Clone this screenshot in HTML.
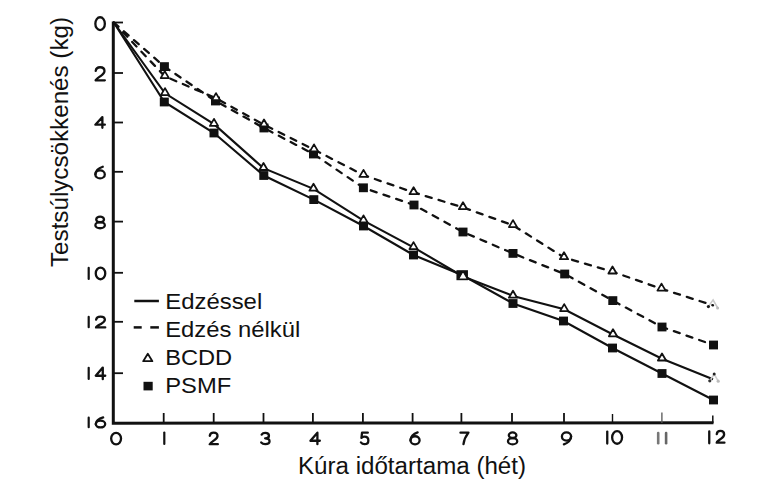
<!DOCTYPE html>
<html><head><meta charset="utf-8"><style>
html,body{margin:0;padding:0;background:#fff;}
svg{display:block;}
text{font-family:"Liberation Sans",sans-serif;fill:#111;}
.ln{fill:none;stroke:#111;stroke-width:2.1;stroke-linejoin:miter;}
.dash{fill:none;stroke:#111;stroke-width:2.3;stroke-dasharray:6.2 7.2;stroke-linecap:round;}
.tri{fill:#fff;stroke:#111;stroke-width:1.8;stroke-linejoin:round;}
.sq{fill:#111;}
.ax{fill:none;stroke:#111;stroke-width:3;}
.tk{stroke:#111;stroke-width:1.8;}
.dgt{fill:none;stroke:#111;stroke-linecap:round;stroke-linejoin:round;}
.dgt *{vector-effect:non-scaling-stroke;}
</style></head><body>
<svg width="779" height="489" viewBox="0 0 779 489">
<rect width="779" height="489" fill="#fff"/>

<path class="ax" d="M113.3,21.5 L113.3,423.2 L713.5,422.8"/>
<line class="tk" x1="113" y1="22.5" x2="123" y2="22.5"/>
<line class="tk" x1="113" y1="73" x2="123" y2="73"/>
<line class="tk" x1="113" y1="122.5" x2="123" y2="122.5"/>
<line class="tk" x1="113" y1="171.8" x2="123" y2="171.8"/>
<line class="tk" x1="113" y1="221.6" x2="123" y2="221.6"/>
<line class="tk" x1="113" y1="272.8" x2="123" y2="272.8"/>
<line class="tk" x1="113" y1="321.8" x2="123" y2="321.8"/>
<line class="tk" x1="113" y1="373.2" x2="123" y2="373.2"/>
<line class="tk" x1="163.7" y1="413" x2="163.7" y2="423"/>
<line class="tk" x1="213.7" y1="413" x2="213.7" y2="423"/>
<line class="tk" x1="263.5" y1="413" x2="263.5" y2="423"/>
<line class="tk" x1="312.9" y1="413" x2="312.9" y2="423"/>
<line class="tk" x1="362.9" y1="413" x2="362.9" y2="423"/>
<line class="tk" x1="412.6" y1="413" x2="412.6" y2="423"/>
<line class="tk" x1="461.4" y1="413" x2="461.4" y2="423"/>
<line class="tk" x1="512.0" y1="413" x2="512.0" y2="423"/>
<line class="tk" x1="564.0" y1="413" x2="564.0" y2="423"/>
<line class="tk" x1="612.5" y1="414" x2="612.5" y2="423" style="stroke-width:1.4"/>
<line class="tk" x1="661.9" y1="412.5" x2="661.9" y2="423" style="stroke-width:1.3;stroke:#555"/>
<line class="tk" x1="712.8" y1="415.5" x2="712.8" y2="423" style="stroke-width:1.5"/>
<polyline class="ln" points="113.8,22.5 165.0,93.3 214.0,124.1 263.5,168.2 313.5,188.9 363.5,220.6 413.5,247.3 463.0,276.5 513.0,295.9 564.2,309.3 613.0,334.5 662.0,358.7 713.0,379.3"/>
<polyline class="ln" points="113.8,22.5 164.3,102.0 214.0,133.0 263.8,175.5 313.8,199.6 363.5,226.0 413.5,255.0 462.0,275.0 513.0,303.5 563.5,321.0 612.5,348.0 662.0,373.5 713.5,400.0"/>
<polyline class="dash" points="113.8,22.5 164.8,76.3 216.0,98.3 264.0,124.7 314.0,149.6 363.5,175.1 413.6,192.4 463.0,207.4 513.0,225.3 564.0,257.4 612.5,271.7 661.5,288.8 713.0,305.3"/>
<polyline class="dash" points="113.8,22.5 164.4,66.6 215.5,101.0 264.0,128.0 313.5,154.0 363.4,187.8 414.0,205.0 463.0,232.0 513.0,253.4 564.7,274.0 612.8,300.6 662.0,327.0 713.5,345.0"/>
<rect class="sq" x="159.90" y="62.20" width="9" height="8.8"/>
<rect class="sq" x="211.00" y="96.60" width="9" height="8.8"/>
<rect class="sq" x="259.50" y="123.60" width="9" height="8.8"/>
<rect class="sq" x="309.00" y="149.60" width="9" height="8.8"/>
<rect class="sq" x="358.90" y="183.40" width="9" height="8.8"/>
<rect class="sq" x="409.50" y="200.60" width="9" height="8.8"/>
<rect class="sq" x="458.50" y="227.60" width="9" height="8.8"/>
<rect class="sq" x="508.50" y="249.00" width="9" height="8.8"/>
<rect class="sq" x="560.20" y="269.60" width="9" height="8.8"/>
<rect class="sq" x="608.30" y="296.20" width="9" height="8.8"/>
<rect class="sq" x="657.50" y="322.60" width="9" height="8.8"/>
<rect class="sq" x="709.00" y="340.60" width="9" height="8.8"/>
<rect class="sq" x="159.80" y="97.60" width="9" height="8.8"/>
<rect class="sq" x="209.50" y="128.60" width="9" height="8.8"/>
<rect class="sq" x="259.30" y="171.10" width="9" height="8.8"/>
<rect class="sq" x="309.30" y="195.20" width="9" height="8.8"/>
<rect class="sq" x="359.00" y="221.60" width="9" height="8.8"/>
<rect class="sq" x="409.00" y="250.60" width="9" height="8.8"/>
<rect class="sq" x="456.45" y="270.20" width="11.5" height="10"/>
<rect class="sq" x="508.50" y="299.10" width="9" height="8.8"/>
<rect class="sq" x="559.00" y="316.60" width="9" height="8.8"/>
<rect class="sq" x="608.00" y="343.60" width="9" height="8.8"/>
<rect class="sq" x="657.50" y="369.10" width="9" height="8.8"/>
<rect class="sq" x="709.00" y="395.60" width="9" height="8.8"/>
<path class="tri"  d="M160.70,78.12 L164.80,71.10 L168.90,78.12 Z"/>
<path class="tri"  d="M211.90,100.12 L216.00,93.10 L220.10,100.12 Z"/>
<path class="tri"  d="M259.90,126.52 L264.00,119.50 L268.10,126.52 Z"/>
<path class="tri"  d="M309.90,151.42 L314.00,144.40 L318.10,151.42 Z"/>
<path class="tri"  d="M359.40,176.92 L363.50,169.90 L367.60,176.92 Z"/>
<path class="tri"  d="M409.50,194.22 L413.60,187.20 L417.70,194.22 Z"/>
<path class="tri"  d="M458.90,209.22 L463.00,202.20 L467.10,209.22 Z"/>
<path class="tri"  d="M508.90,227.12 L513.00,220.10 L517.10,227.12 Z"/>
<path class="tri"  d="M559.90,259.22 L564.00,252.20 L568.10,259.22 Z"/>
<path class="tri"  d="M608.40,273.52 L612.50,266.50 L616.60,273.52 Z"/>
<path class="tri"  d="M657.40,290.62 L661.50,283.60 L665.60,290.62 Z"/>
<path class="tri"  d="M160.90,95.12 L165.00,88.10 L169.10,95.12 Z"/>
<path class="tri"  d="M209.90,125.92 L214.00,118.90 L218.10,125.92 Z"/>
<path class="tri"  d="M259.40,170.02 L263.50,163.00 L267.60,170.02 Z"/>
<path class="tri"  d="M309.40,190.72 L313.50,183.70 L317.60,190.72 Z"/>
<path class="tri"  d="M359.40,222.42 L363.50,215.40 L367.60,222.42 Z"/>
<path class="tri"  d="M409.40,249.12 L413.50,242.10 L417.60,249.12 Z"/>
<path d="M458.6,279 L463,271.3 L467.4,279 Z" fill="#fff" stroke="#111" stroke-width="1.2" stroke-linejoin="round"/>
<path class="tri"  d="M508.90,297.72 L513.00,290.70 L517.10,297.72 Z"/>
<path class="tri"  d="M560.10,311.12 L564.20,304.10 L568.30,311.12 Z"/>
<path class="tri"  d="M608.90,336.32 L613.00,329.30 L617.10,336.32 Z"/>
<path class="tri"  d="M657.90,360.52 L662.00,353.50 L666.10,360.52 Z"/>
<path d="M708.3,306.6 L713.1,299.9 L717.7,308" fill="none" stroke="#c8c8c8" stroke-width="1.6"/>
<circle cx="708.4" cy="306.6" r="1.6" fill="#1a1a1a"/>
<circle cx="717.6" cy="308" r="1.5" fill="#bbb"/>
<path d="M709.8,381 L714.2,374 L718.3,381.3" fill="none" stroke="#d0d0d0" stroke-width="1.6"/>
<circle cx="709.8" cy="380.8" r="1.6" fill="#333"/>
<circle cx="714.2" cy="374" r="1.5" fill="#222"/>
<circle cx="718.2" cy="381.2" r="1.6" fill="#bbb"/>
<g class="dgt" transform="translate(95.35,17.25) scale(0.9500,1.0159)" style="stroke-width:2.3"><ellipse cx="5" cy="6.3" rx="5" ry="6.3"/></g>
<g class="dgt" transform="translate(95.35,67.25) scale(0.9500,1.0397)" style="stroke-width:2.3"><path d="M0.4,3.4 C0.7,1.2 2.6,0 5,0 C7.7,0 9.6,1.5 9.6,3.7 C9.6,5.7 8,6.9 5.5,8.5 C3,10.1 0.6,11.4 0.3,12.6 L10,12.6"/></g>
<g class="dgt" transform="translate(95.35,117.15) scale(0.9500,0.8492)" style="stroke-width:2.3"><path d="M7.4,12.6 V0 L0,8.9 H10"/></g>
<g class="dgt" transform="translate(95.35,166.75) scale(0.9500,0.9206)" style="stroke-width:2.3"><path d="M7.8,0 C3.8,1.3 0.4,4 0.05,8.3"/><ellipse cx="5" cy="8.3" rx="4.95" ry="4.3"/></g>
<g class="dgt" transform="translate(95.35,216.65) scale(0.9500,0.9206)" style="stroke-width:2.3"><ellipse cx="5" cy="3.05" rx="4.1" ry="3.05"/><ellipse cx="5" cy="9.25" rx="5" ry="3.35"/></g>
<rect x="87.6" y="266.8" width="2.2" height="13.3" rx="1.1" fill="#111"/>
<g class="dgt" transform="translate(95.75,267.65) scale(0.9500,0.9206)" style="stroke-width:2.3"><ellipse cx="5" cy="6.3" rx="5" ry="6.3"/></g>
<rect x="87.6" y="315.8" width="2.2" height="12.5" rx="1.1" fill="#111"/>
<g class="dgt" transform="translate(95.75,316.65) scale(0.9500,0.8571)" style="stroke-width:2.3"><path d="M0.4,3.4 C0.7,1.2 2.6,0 5,0 C7.7,0 9.6,1.5 9.6,3.7 C9.6,5.7 8,6.9 5.5,8.5 C3,10.1 0.6,11.4 0.3,12.6 L10,12.6"/></g>
<rect x="87.6" y="366.7" width="2.2" height="13.3" rx="1.1" fill="#111"/>
<g class="dgt" transform="translate(95.75,367.55) scale(0.9500,0.9206)" style="stroke-width:2.3"><path d="M7.4,12.6 V0 L0,8.9 H10"/></g>
<rect x="87.6" y="416.6" width="2.2" height="11.7" rx="1.1" fill="#111"/>
<g class="dgt" transform="translate(95.75,417.45) scale(0.9500,0.7937)" style="stroke-width:2.3"><path d="M7.8,0 C3.8,1.3 0.4,4 0.05,8.3"/><ellipse cx="5" cy="8.3" rx="4.95" ry="4.3"/></g>
<g class="dgt" transform="translate(111.15,432.85) scale(0.9900,0.9127)" style="stroke-width:2.3"><ellipse cx="5" cy="6.3" rx="5" ry="6.3"/></g>
<g class="dgt" transform="translate(209.45,432.65) scale(0.8400,0.9127)" style="stroke-width:2.3"><path d="M0.4,3.4 C0.7,1.2 2.6,0 5,0 C7.7,0 9.6,1.5 9.6,3.7 C9.6,5.7 8,6.9 5.5,8.5 C3,10.1 0.6,11.4 0.3,12.6 L10,12.6"/></g>
<g class="dgt" transform="translate(261.05,432.85) scale(0.8500,0.8889)" style="stroke-width:2.3"><path d="M0.7,1.9 C1.6,0.6 3.1,0 4.9,0 C7.6,0 9.3,1.4 9.3,3.3 C9.3,5.2 7.6,6.2 4.8,6.2 C8,6.2 10,7.6 10,9.4 C10,11.3 8,12.6 5,12.6 C3,12.6 1.3,12 0.2,10.8"/></g>
<g class="dgt" transform="translate(310.45,432.65) scale(0.9400,0.9127)" style="stroke-width:2.3"><path d="M7.4,12.6 V0 L0,8.9 H10"/></g>
<g class="dgt" transform="translate(360.75,432.65) scale(0.7600,0.9127)" style="stroke-width:2.3"><path d="M9.3,0 H1.7 L0.9,5.6 C2.1,4.8 3.5,4.4 5,4.4 C8,4.4 10,6.1 10,8.5 C10,10.9 8,12.6 5,12.6 C3,12.6 1.3,11.9 0.2,10.7"/></g>
<g class="dgt" transform="translate(410.45,432.45) scale(0.9200,0.9444)" style="stroke-width:2.3"><path d="M7.8,0 C3.8,1.3 0.4,4 0.05,8.3"/><ellipse cx="5" cy="8.3" rx="4.95" ry="4.3"/></g>
<g class="dgt" transform="translate(460.45,432.65) scale(0.8000,0.9127)" style="stroke-width:2.3"><path d="M0,0 H10 C6.8,3.6 4.4,8 3.8,12.6"/></g>
<g class="dgt" transform="translate(507.95,432.45) scale(0.9300,0.9444)" style="stroke-width:2.3"><ellipse cx="5" cy="3.05" rx="4.1" ry="3.05"/><ellipse cx="5" cy="9.25" rx="5" ry="3.35"/></g>
<g class="dgt" transform="translate(561.85,432.45) scale(0.9300,0.9444)" style="stroke-width:2.3"><path d="M2.2,12.6 C6.2,11.3 9.6,8.6 9.95,4.3"/><ellipse cx="5" cy="4.3" rx="4.95" ry="4.3"/></g>
<rect x="163.2" y="431.5" width="2.2" height="13.5" rx="1.1" fill="#111"/>
<rect x="606.1" y="430.5" width="2.3" height="14.2" rx="1.1" fill="#111"/>
<g class="dgt" transform="translate(612.15,431.15) scale(0.9900,1.0000)" style="stroke-width:2.3"><ellipse cx="5" cy="6.3" rx="5" ry="6.3"/></g>
<rect x="656.9" y="431.8" width="2.6" height="12.6" rx="1.2" fill="#777"/>
<rect x="664.8" y="431.8" width="2.6" height="12.6" rx="1.2" fill="#666"/>
<rect x="708.1" y="430.3" width="2.3" height="14.1" rx="1.1" fill="#111"/>
<g class="dgt" transform="translate(716.45,430.95) scale(0.8000,0.9286)" style="stroke-width:2.3"><path d="M0.4,3.4 C0.7,1.2 2.6,0 5,0 C7.7,0 9.6,1.5 9.6,3.7 C9.6,5.7 8,6.9 5.5,8.5 C3,10.1 0.6,11.4 0.3,12.6 L10,12.6"/></g>
<text x="0" y="0" font-size="23" transform="translate(68,267) rotate(-90)" textLength="250" lengthAdjust="spacingAndGlyphs">Testsúlycsökkenés (kg)</text>
<text x="298" y="473.8" font-size="23" textLength="228" lengthAdjust="spacingAndGlyphs">Kúra időtartama (hét)</text>
<line x1="134.3" y1="301" x2="158.9" y2="301" stroke="#111" stroke-width="2.5"/>
<line x1="133.7" y1="327.4" x2="141.7" y2="327.4" stroke="#111" stroke-width="2.5"/>
<line x1="150.3" y1="327.4" x2="158.9" y2="327.4" stroke="#111" stroke-width="2.5"/>
<path d="M143.2,361.2 L147.8,353.8 L152.4,361.2 Z" fill="#fff" stroke="#111" stroke-width="1.8" stroke-linejoin="round"/>
<rect class="sq" x="143.5" y="381.8" width="9.2" height="8.6"/>
<text x="0" y="0" font-size="22" transform="translate(165.2,309.3) scale(1,1.035)" textLength="97" lengthAdjust="spacingAndGlyphs">Edzéssel</text>
<text x="0" y="0" font-size="22" transform="translate(165.2,337.1) scale(1,1.035)" textLength="135" lengthAdjust="spacingAndGlyphs">Edzés nélkül</text>
<text x="0" y="0" font-size="22" transform="translate(165.2,365.3) scale(1,1.035)" textLength="67" lengthAdjust="spacingAndGlyphs">BCDD</text>
<text x="0" y="0" font-size="22" transform="translate(165.2,393.2) scale(1,1.035)" textLength="66" lengthAdjust="spacingAndGlyphs">PSMF</text>
</svg></body></html>
